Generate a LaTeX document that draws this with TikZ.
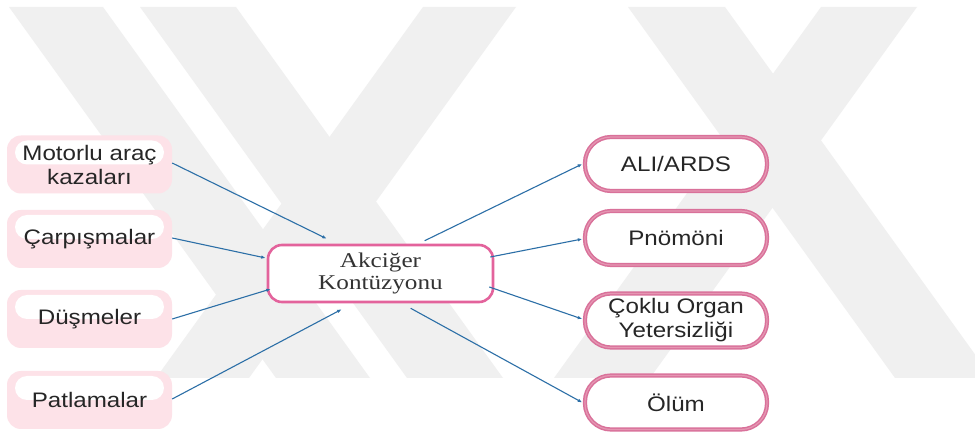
\documentclass[tikz,border=0pt]{standalone}
\usepackage{fontspec}
\setmainfont{Liberation Serif}
\setsansfont{Liberation Sans}
\usetikzlibrary{arrows.meta,calc}

\definecolor{leftfill}{HTML}{FDE2E8}
\definecolor{rimpink}{HTML}{D9719A}
\definecolor{rimlight}{HTML}{E596B2}
\definecolor{hubpink}{HTML}{E3639C}
\definecolor{linkblue}{HTML}{2C6FA7}
\definecolor{markgray}{HTML}{F0F0F0}
\definecolor{inkgray}{HTML}{262626}
\definecolor{hubink}{HTML}{333333}

% slightly widened lettering
\newcommand{\wx}[1]{\scalebox{1.15}[1]{#1}}
\newcommand{\wy}[1]{\scalebox{1.2}[1]{#1}}

\begin{document}
\begin{tikzpicture}[x=1pt,y=-1pt,
  causebox/.style={fill=leftfill, rounded corners=14pt,
    minimum width=165pt, minimum height=58pt, inner sep=0pt,
    align=center, text=inkgray,
    font=\sffamily\fontsize{21}{24}\selectfont,
    path picture={\fill[white, rounded corners=12pt]
      ($(path picture bounding box.north west)+(8,5)$) rectangle
      ($(path picture bounding box.north east)+(-8,29)$);}},
  hubbox/.style={draw=hubpink, line width=2.6pt, fill=white,
    rounded corners=14pt, minimum width=225pt, minimum height=57pt,
    inner sep=0pt, align=center, text=hubink,
    font=\rmfamily\fontsize{21}{22}\selectfont},
  effectbox/.style={draw=rimpink, line width=1.5pt, fill=white,
    double=rimlight, double distance=1.2pt,
    rounded corners=26pt, minimum width=182pt, minimum height=54pt,
    inner sep=0pt, align=center, text=inkgray,
    font=\sffamily\fontsize{21}{24}\selectfont},
  link/.style={draw=linkblue, line width=1.1pt,
    -{Latex[length=4.5pt,width=3.5pt]}},
  band/.style={fill=markgray}
]
\useasboundingbox (0,0) rectangle (975,435);
\fill[white] (0,0) rectangle (975,435);

% background mark: crossing diagonal strips
\begin{scope}
  \clip (0,7) rectangle (975,378);
  \foreach \a/\b in {9/103, 140/236, 628/725}
    \fill[band] (\a,7) -- (\b,7) -- (\b+267,378) -- (\a+267,378) -- cycle;
  \foreach \a/\b in {423/516, 821/917}
    \fill[band] (\a,7) -- (\b,7) -- (\b-267,378) -- (\a-267,378) -- cycle;
\end{scope}

% causes
\node[causebox] (motor) at (89.5,164.5) {\wx{Motorlu araç}\\\wx{kazaları}};
\node[causebox] (carp)  at (89.5,239)   {\wx{Çarpışmalar}};
\node[causebox] (dus)   at (89.5,319)   {\wx{Düşmeler}};
\node[causebox] (pat)   at (89.5,400)   {\wx{Patlamalar}};

% central condition
\node[hubbox] (hub) at (380.5,273.5) {\wy{Akciğer}\\\wy{Kontüzyonu}};

% outcomes
\node[effectbox] (ali)  at (676,164)   {\wx{ALI/ARDS}};
\node[effectbox] (pno)  at (676,238)   {\wx{Pnömöni}};
\node[effectbox] (cok)  at (676,320.5) {\wx{Çoklu Organ}\\\wx{Yetersizliği}};
\node[effectbox] (olum) at (676,402.5) {\wx{Ölüm}};

% connectors
\draw[link] ([shift={(0,-1.5)}]motor.east) -- ([shift={(60,-5)}]hub.north west);
\draw[link] ([shift={(0,-1)}]carp.east) -- ([shift={(-1,-15.5)}]hub.west);
\draw[link] (dus.east) -- ([shift={(4,15.5)}]hub.west);
\draw[link] ([shift={(0,-1)}]pat.east) -- ([shift={(75,6)}]hub.south west);

\draw[link] ([shift={(158,-3)}]hub.north west) -- ([shift={(-2,0)}]ali.west);
\draw[link] ([shift={(-4,-16.5)}]hub.east) -- ([shift={(-2,1)}]pno.west);
\draw[link] ([shift={(-5,13.5)}]hub.east) -- ([shift={(-2,-1.5)}]cok.west);
\draw[link] ([shift={(144,5)}]hub.south west) -- ([shift={(-2,0)}]olum.west);
\end{tikzpicture}
\end{document}
